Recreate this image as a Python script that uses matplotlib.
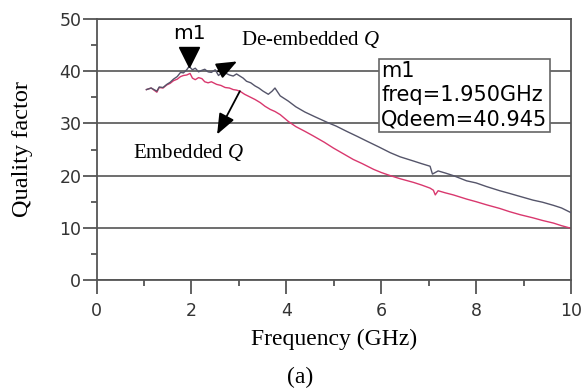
import numpy as np
import matplotlib
matplotlib.use("Agg")
import matplotlib.pyplot as plt
from matplotlib.ticker import MultipleLocator
from matplotlib.transforms import ScaledTranslation

# Q medido (embebido) y Q tras de-embedding, en funcion de la frecuencia (GHz)
freq_deemb = [1.05, 1.15, 1.27, 1.32, 1.40, 1.48, 1.55, 1.62, 1.70, 1.77, 1.83, 1.90,
              1.95, 2.02, 2.08, 2.15, 2.22, 2.28, 2.35, 2.42, 2.50, 2.57, 2.64, 2.71,
              2.80, 2.88, 2.95, 3.02, 3.09, 3.16, 3.25, 3.34, 3.42, 3.51, 3.62, 3.70,
              3.76, 3.87, 4.04, 4.20, 4.39, 4.60, 4.89, 5.05, 5.27, 5.50, 5.70, 5.95,
              6.19, 6.40, 6.68, 6.85, 7.03, 7.08, 7.12, 7.20, 7.35, 7.52, 7.80, 8.00,
              8.22, 8.50, 8.70, 8.93, 9.20, 9.40, 9.63, 9.80, 10.0]
q_deemb = [36.5, 36.8, 36.2, 37.0, 36.9, 37.5, 37.9, 38.5, 39.0, 39.8, 39.7, 40.3,
           40.945, 40.3, 40.6, 39.9, 40.2, 40.4, 39.9, 39.8, 40.3, 39.2, 39.8, 39.7,
           39.3, 39.1, 39.5, 39.1, 38.7, 38.1, 37.8, 37.2, 36.8, 36.2, 35.6, 36.2,
           36.8, 35.3, 34.3, 33.2, 32.2, 31.3, 30.1, 29.5, 28.5, 27.5, 26.6, 25.5,
           24.4, 23.6, 22.8, 22.3, 21.8, 20.3, 20.5, 20.9, 20.5, 20.0, 19.0, 18.6,
           17.9, 17.1, 16.6, 16.0, 15.3, 14.9, 14.3, 13.8, 12.9]

freq_emb = [1.05, 1.15, 1.27, 1.32, 1.40, 1.48, 1.55, 1.62, 1.70, 1.77, 1.83, 1.90,
            1.97, 2.02, 2.08, 2.15, 2.22, 2.28, 2.35, 2.42, 2.53, 2.62, 2.71, 2.80,
            2.88, 2.95, 3.02, 3.12, 3.23, 3.34, 3.45, 3.55, 3.66, 3.76, 3.87, 4.04,
            4.20, 4.39, 4.57, 4.80, 4.99, 5.20, 5.41, 5.60, 5.84, 6.00, 6.19, 6.40,
            6.68, 6.85, 7.03, 7.10, 7.14, 7.20, 7.35, 7.52, 7.80, 8.00, 8.22, 8.50,
            8.70, 8.93, 9.20, 9.40, 9.63, 9.80, 10.0]
q_emb = [36.5, 36.8, 36.0, 36.9, 36.8, 37.4, 37.7, 38.2, 38.5, 39.0, 39.2, 39.3,
         39.6, 38.7, 38.4, 38.8, 38.6, 38.0, 37.8, 38.0, 37.5, 37.3, 36.9, 36.8,
         36.5, 36.4, 36.2, 35.6, 35.1, 34.6, 34.0, 33.3, 32.7, 32.3, 31.7, 30.4,
         29.4, 28.5, 27.6, 26.4, 25.3, 24.2, 23.1, 22.3, 21.2, 20.6, 20.0, 19.4,
         18.7, 18.2, 17.6, 17.2, 16.3, 17.1, 16.7, 16.3, 15.5, 15.0, 14.4, 13.7,
         13.1, 12.5, 11.9, 11.4, 10.9, 10.4, 9.9]

# marcador m1
m1_freq = 1.95
m1_q = 40.945

AX_COLOR = "#555555"
SERIF = ["Liberation Serif", "DejaVu Serif"]

plt.rcParams["font.family"] = ["DejaVu Sans"]
plt.rcParams["mathtext.fontset"] = "custom"
plt.rcParams["mathtext.it"] = "Liberation Serif:italic"
plt.rcParams["mathtext.rm"] = "Liberation Serif"

fig = plt.figure(figsize=(5.82, 3.92), dpi=100)
ax = fig.add_axes([0.166, 0.286, 0.815, 0.665])

ax.plot(freq_deemb, q_deemb, color="#55556a", lw=1.0, zorder=3)
ax.plot(freq_emb, q_emb, color="#d9386e", lw=1.0, zorder=2)

ax.set_xlim(0, 10)
ax.set_ylim(0, 50)
ax.xaxis.set_major_locator(MultipleLocator(2))
ax.xaxis.set_minor_locator(MultipleLocator(1))
ax.yaxis.set_major_locator(MultipleLocator(10))
ax.yaxis.set_minor_locator(MultipleLocator(5))

for sp in ax.spines.values():
    sp.set_color(AX_COLOR)
    sp.set_linewidth(1.3)
ax.yaxis.grid(True, which="major", color=AX_COLOR, lw=1.2, zorder=1)
ax.set_axisbelow(True)

ax.tick_params(which="major", direction="out", length=10, width=1.3,
               color=AX_COLOR, labelsize=12.5, labelcolor="#333333")
ax.tick_params(which="minor", direction="out", length=4.5, width=1.3, color=AX_COLOR)
ax.tick_params(axis="y", which="major", pad=1)
ax.tick_params(axis="x", which="major", pad=6)

ax.set_xlabel("Frequency (GHz)", family=SERIF, fontsize=17, labelpad=6)
ax.set_ylabel("Quality factor", family=SERIF, fontsize=17.5, labelpad=19)
fig.text(0.516, 0.038, "(a)", family=SERIF, fontsize=17, ha="center", va="center")

# triangulo del marcador con la punta sobre el punto
shift_up = ScaledTranslation(0, 7 / 72, fig.dpi_scale_trans)
ax.plot([m1_freq], [m1_q], marker="v", markersize=14, color="black",
        transform=ax.transData + shift_up, zorder=5, clip_on=False)
ax.annotate("m1", xy=(m1_freq, m1_q), xytext=(0, 17), textcoords="offset points",
            ha="center", va="bottom", fontsize=14.5)

ax.text(6.0, 41.9, f"m1\nfreq={m1_freq:.3f}GHz\nQdeem={m1_q:.3f}",
        fontsize=15, ha="left", va="top", linespacing=1.25, zorder=6,
        bbox=dict(boxstyle="square,pad=0.12", fc="white", ec="#666666", lw=1.2))

# etiquetas con flecha
arrow_style = dict(arrowstyle="-|>,head_length=0.7,head_width=0.28", color="black",
                   lw=1.3, mutation_scale=18, shrinkA=0, shrinkB=0)
ax.text(3.04, 46.2, "De-embedded $\\mathit{Q}$", family=SERIF, fontsize=15,
        ha="left", va="center")
ax.annotate("", xy=(2.96, 41.9), xytext=(2.56, 40.0), arrowprops=arrow_style, zorder=6)
ax.text(0.77, 24.4, "Embedded $\\mathit{Q}$", family=SERIF, fontsize=15,
        ha="left", va="center")
ax.annotate("", xy=(2.54, 27.9), xytext=(3.02, 36.2), arrowprops=arrow_style, zorder=6)

fig.savefig("out.png", dpi=100)
